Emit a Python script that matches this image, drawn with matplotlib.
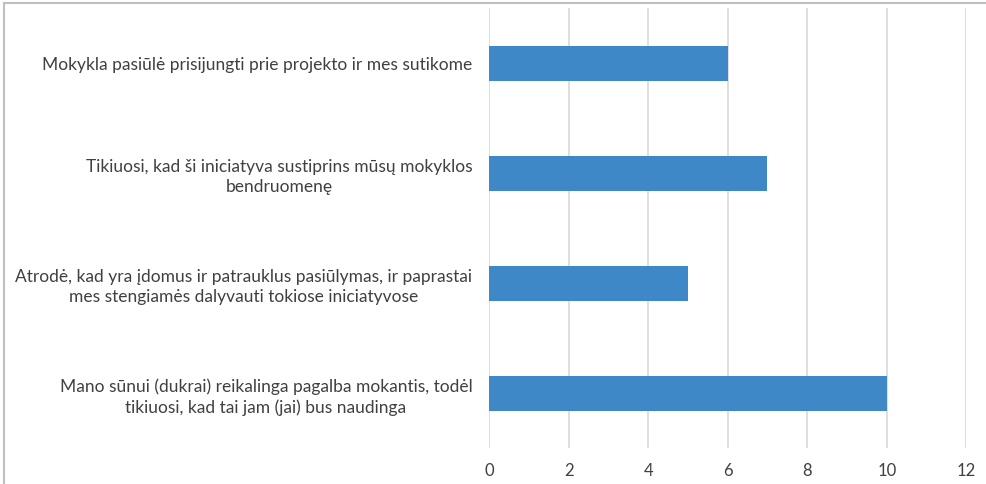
import matplotlib.pyplot as plt
from matplotlib.lines import Line2D

plt.rcParams['font.family'] = ['Lato', 'DejaVu Sans']

labels = ['Mokykla pasiūlė prisijungti prie projekto ir mes sutikome',
          'Tikiuosi, kad ši iniciatyva sustiprins mūsų mokyklos\nbendruomenę',
          'Atrodė, kad yra įdomus ir patrauklus pasiūlymas, ir paprastai\nmes stengiamės dalyvauti tokiose iniciatyvose',
          'Mano sūnui (dukrai) reikalinga pagalba mokantis, todėl\ntikiuosi, kad tai jam (jai) bus naudinga']
values = [6, 7, 5, 10]
xticks = [0, 2, 4, 6, 8, 10, 12]

fig = plt.figure(figsize=(9.86, 4.84), dpi=100)
ax = fig.add_axes([0.496, 0.074, 0.484, 0.909])

pos = list(range(len(labels)))
ax.barh(pos, values, height=0.32, color='#3F88C8', zorder=3)
ax.set_ylim(len(labels) - 0.5, -0.5)
ax.set_xlim(0, 12)
ax.set_xticks(xticks)
ax.set_yticks(pos)
ax.set_yticklabels(labels, multialignment='center', fontsize=12.5,
                   color='#404040', linespacing=1.35)
ax.tick_params(axis='x', labelsize=12, labelcolor='#404040', length=0, pad=11)
ax.tick_params(axis='y', length=0, pad=12)
ax.grid(axis='x', color='#D9D9D9', linewidth=1.2, zorder=0)
for s in ax.spines.values():
    s.set_visible(False)

# outer frame (left and top edges visible)
fig.add_artist(Line2D([0.004, 0.004], [0, 0.994], transform=fig.transFigure, color='#BFBFBF', lw=1.5))
fig.add_artist(Line2D([0.004, 1], [0.994, 0.994], transform=fig.transFigure, color='#BFBFBF', lw=1.5))

fig.savefig('out.png', dpi=100)
